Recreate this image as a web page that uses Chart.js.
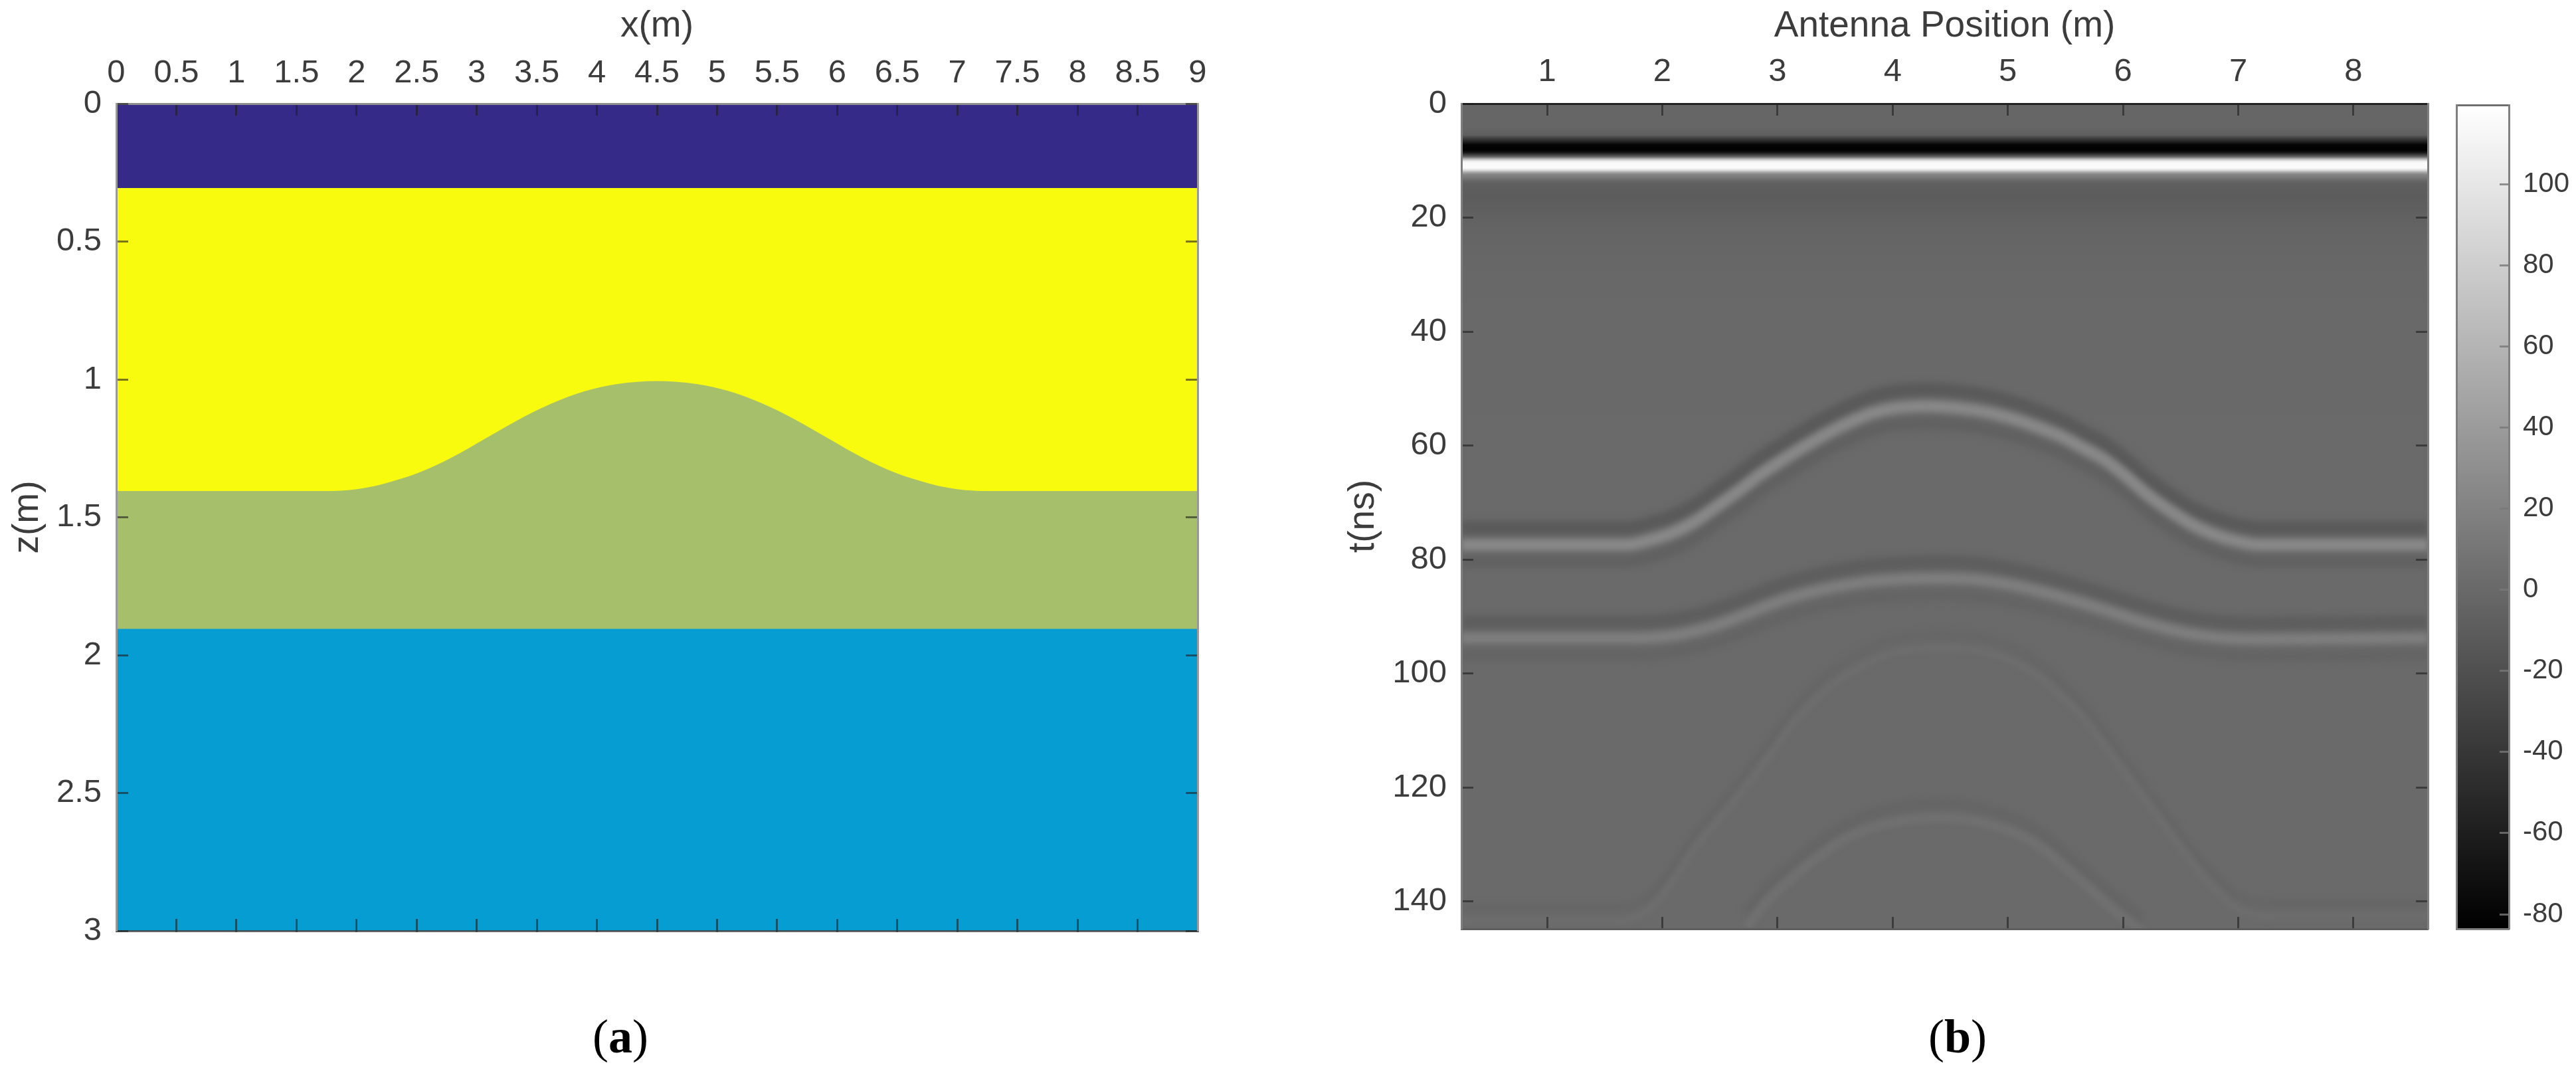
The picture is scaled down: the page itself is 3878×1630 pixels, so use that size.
<!DOCTYPE html>
<html>
<head>
<meta charset="utf-8">
<title>Model and radargram</title>
<script src="https://cdn.jsdelivr.net/npm/chart.js@4"></script>
<style>
  html, body { margin: 0; padding: 0; background: #fff; width: 3878px; height: 1630px; overflow: hidden; }
  canvas { position: absolute; top: 0; }
  #modelChart { left: 0; }
  #radarChart { left: 1900px; }
  #barChart { left: 3680px; }
  .caption { position: absolute; top: 1519px; font: 72px "Liberation Serif", serif; color: #000; transform: translateX(-50%); }
</style>
</head>
<body>
<canvas id="modelChart" width="1900" height="1500"></canvas>
<canvas id="radarChart" width="1780" height="1500"></canvas>
<canvas id="barChart" width="198" height="1500"></canvas>
<div class="caption" style="left:934px">(<b>a</b>)</div>
<div class="caption" style="left:2947px">(<b>b</b>)</div>
<script>
// Panel (a): ticks
const modelXTicks = [0, 0.5, 1, 1.5, 2, 2.5, 3, 3.5, 4, 4.5, 5, 5.5, 6, 6.5, 7, 7.5, 8, 8.5, 9];
const modelZTicks = [0, 0.5, 1, 1.5, 2, 2.5, 3];

// Panel (a): layer boundaries
const flatX = [0, 9];
const airZ = [0, 0];
const upperZ = [0.306, 0.306];
const lowerZ = [1.905, 1.905];
const bumpX = [0, 1.75, 1.93, 2.08, 2.24, 2.52, 2.79, 3.07, 3.34, 3.62, 3.9, 4.17, 4.5, 4.83, 5.1, 5.38, 5.66, 5.93, 6.21, 6.48, 6.76, 6.92, 7.07, 7.25, 9];
const bumpZ = [1.405, 1.405, 1.402, 1.393, 1.377, 1.338, 1.284, 1.215, 1.148, 1.088, 1.043, 1.017, 1.006, 1.017, 1.043, 1.088, 1.148, 1.215, 1.284, 1.338, 1.377, 1.393, 1.402, 1.405, 1.405];

// Panel (b): ticks
const antennaTicks = [1, 2, 3, 4, 5, 6, 7, 8];
const timeTicks = [0, 20, 40, 60, 80, 100, 120, 140];
const ampTicks = [-80, -60, -40, -20, 0, 20, 40, 60, 80, 100];
const antennaRange = [0.256, 8.646];
const timeRange = [0, 144.8];
const ampRange = [-83.6, 119.5];

// Panel (b): amplitude down a trace, direct wave then background
const bandTimes = [0, 3, 4.5, 5.5, 6.2, 6.8, 7.2, 8.2, 8.6, 8.9, 9.3, 9.7, 10.1, 10.4, 11.3, 11.7, 12, 12.4, 13, 13.6, 14, 16.3, 22, 30, 40, 145];
const bandAmps = [-2, -2, -3, -8, -38, -62, -80, -82, -65, -40, -5, 60, 105, 116, 116, 90, 55, 25, 11, -2, -8, -10, -4, -1, 0, 1];

// Panel (b): reflectors
const refl1X = [0.256, 1.7, 1.89, 2.08, 2.27, 2.465, 2.66, 2.85, 3.04, 3.24, 3.43, 3.62, 3.81, 4, 4.29, 4.68, 4.87, 5.06, 5.26, 5.45, 5.64, 5.83, 6.02, 6.21, 6.41, 6.6, 6.79, 6.99, 7.18, 8.646];
const refl1T = [77.4, 77.4, 76.6, 75.4, 73.5, 70.8, 68, 65.1, 62.6, 60.1, 57.9, 56, 54.4, 53.5, 53.1, 53.7, 54.4, 55.4, 56.8, 58.3, 60.3, 62.4, 65.3, 68.6, 71.5, 73.9, 75.6, 76.8, 77.4, 77.4];
const refl2X = [0.256, 1.756, 2.109, 2.463, 2.727, 3.08, 3.433, 3.787, 4.14, 4.426, 4.757, 5.11, 5.463, 5.816, 6.17, 6.52, 6.876, 7.2, 8.646];
const refl2T = [93.8, 93.8, 93.3, 91.6, 89.6, 86.9, 85.1, 83.9, 83.4, 83.3, 83.6, 84.8, 86.6, 88.7, 91, 92.8, 93.8, 94, 93.8];
const refl3X = [0.256, 1.624, 1.889, 2.109, 2.286, 2.507, 2.727, 2.948, 3.169, 3.433, 3.698, 4.007, 4.426, 4.846, 5.155, 5.419, 5.684, 5.905, 6.125, 6.39, 6.611, 6.832, 7.008, 7.3, 8.646];
const refl3T = [143.4, 143.4, 141.3, 136, 130.6, 125.3, 119.9, 114, 108, 102.7, 99.1, 96.4, 95.5, 96.4, 99.1, 103.2, 108.6, 114.5, 120.5, 127.6, 133.6, 138.6, 141.5, 142.6, 142.6];
const refl4X = [2.727, 2.904, 3.124, 3.345, 3.61, 3.919, 4.426, 4.846, 5.2, 5.508, 5.772, 6.037, 6.17];
const refl4T = [144.6, 140.1, 136, 132.4, 128.8, 126.5, 125.3, 126.5, 129.4, 134.2, 138.9, 143.4, 145.4];

// Parula colours of the four layers
const airColor = '#352a87';
const upperColor = '#f9fb0e';
const middleColor = '#a6bf6b';
const lowerColor = '#069dd2';

const labelFont = { family: '"Liberation Sans", Arial, sans-serif', size: 49 };
const titleFont = { family: '"Liberation Sans", Arial, sans-serif', size: 55 };
const textColor = '#3c3c3c';

function zip(xs, ys) {
  return xs.map((x, i) => ({ x: x, y: ys[i] }));
}

// gray colormap over the colorbar range
function ampToGray(a) {
  const g = Math.round((a - ampRange[0]) / (ampRange[1] - ampRange[0]) * 255);
  const v = Math.max(0, Math.min(255, g));
  return `rgb(${v},${v},${v})`;
}

// vertical gradient placed with the y scale
function ampGradient(values, amps) {
  return function (ctx) {
    const chart = ctx.chart;
    const scale = chart.scales.y;
    if (!scale || !chart.chartArea) return '#666';
    const top = scale.getPixelForValue(values[0]);
    const bottom = scale.getPixelForValue(values[values.length - 1]);
    const grad = chart.ctx.createLinearGradient(0, top, 0, bottom);
    values.forEach((v, i) => {
      grad.addColorStop((scale.getPixelForValue(v) - top) / (bottom - top), ampToGray(amps[i]));
    });
    return grad;
  };
}

function layer(xs, zs, color) {
  return {
    data: zip(xs, zs), backgroundColor: color, borderWidth: 0, pointRadius: 0,
    fill: 'start', cubicInterpolationMode: 'monotone'
  };
}

function lobe(xs, ts, offset, amp, width, blur) {
  return {
    data: xs.map((x, i) => ({ x: x, y: ts[i] + offset })),
    borderColor: ampToGray(amp), borderWidth: width, pointRadius: 0, fill: false,
    cubicInterpolationMode: 'monotone', blurPx: blur
  };
}

// one axis with inward ticks, its box size fixed so the plot area lands where it should
function axis(o) {
  const horizontal = o.position === 'top' || o.position === 'bottom';
  return {
    type: 'linear', position: o.position, min: o.range[0], max: o.range[1], reverse: !!o.reverse,
    afterFit: s => { if (horizontal) s.height = o.size; else s.width = o.size; },
    afterBuildTicks: s => { s.ticks = (o.ticks || []).map(v => ({ value: v })); },
    grid: {
      drawOnChartArea: false, drawTicks: !!o.ticks, tickLength: -(o.tickLen || 18), tickWidth: 3,
      tickColor: o.tickColor || 'rgba(30,30,30,0.6)', z: 1
    },
    border: { color: o.border, width: 3, z: 1 },
    ticks: {
      display: !!o.labels, padding: o.pad || 0, font: o.font || labelFont, color: textColor,
      autoSkip: false, maxRotation: 0, minRotation: 0, callback: v => String(v)
    },
    title: o.title ? { display: true, text: o.title, font: titleFont, color: textColor, padding: o.titlePad } : { display: false }
  };
}

const softLines = {
  id: 'softLines',
  beforeDatasetDraw(chart, args) {
    const blur = chart.data.datasets[args.index].blurPx;
    if (blur) {
      chart.ctx.save();
      chart.ctx.filter = `blur(${blur}px)`;
    }
  },
  afterDatasetDraw(chart, args) {
    if (chart.data.datasets[args.index].blurPx) chart.ctx.restore();
  }
};

const baseOptions = {
  responsive: false, animation: false, devicePixelRatio: 1,
  plugins: { legend: { display: false }, tooltip: { enabled: false } }
};

new Chart(document.getElementById('modelChart'), {
  type: 'line',
  data: {
    datasets: [
      layer(flatX, lowerZ, lowerColor),
      layer(bumpX, bumpZ, middleColor),
      layer(flatX, upperZ, upperColor),
      layer(flatX, airZ, airColor)
    ]
  },
  options: {
    ...baseOptions,
    layout: { padding: { left: 0, top: 0, right: 97, bottom: 99 } },
    scales: {
      x: axis({ position: 'top', range: [0, 9], size: 156, ticks: modelXTicks, labels: true, pad: 34, border: '#8e8e8e', title: 'x(m)', titlePad: { top: 7, bottom: 0 } }),
      x2: axis({ position: 'bottom', range: [0, 9], size: 0, ticks: modelXTicks, border: 'rgba(50,50,50,0.75)' }),
      y: axis({ position: 'left', range: [0, 3], reverse: true, size: 175, ticks: modelZTicks, labels: true, pad: 40, border: '#999999', title: 'z(m)', titlePad: { top: 9, bottom: 0 } }),
      y2: axis({ position: 'right', range: [0, 3], reverse: true, size: 0, ticks: modelZTicks, border: '#999999' })
    }
  }
});

new Chart(document.getElementById('radarChart'), {
  type: 'line',
  data: {
    datasets: [
      lobe(refl1X, refl1T, 0, 25, 17, 4),
      lobe(refl2X, refl2T, 0, 17, 16, 4),
      lobe(refl3X, refl3T, 0, 3, 12, 3.5),
      lobe(refl4X, refl4T, 0, 6, 14, 3.5),
      lobe(refl1X, refl1T, -3, -12, 20, 5),
      lobe(refl2X, refl2T, -2.9, -9, 20, 5),
      lobe(refl3X, refl3T, -2.4, -2, 12, 5),
      lobe(refl4X, refl4T, -2.6, -3, 14, 5),
      lobe(refl1X, refl1T, 3, -6, 18, 5),
      lobe(refl2X, refl2T, 3, -4, 16, 5),
      {
        data: zip(antennaRange, [0, 0]), backgroundColor: ampGradient(bandTimes, bandAmps),
        borderWidth: 0, pointRadius: 0, fill: 'start'
      }
    ]
  },
  options: {
    ...baseOptions,
    layout: { padding: { left: 0, top: 0, right: 25, bottom: 102 } },
    scales: {
      x: axis({ position: 'top', range: antennaRange, size: 156, ticks: antennaTicks, labels: true, pad: 36, border: '#222222', title: 'Antenna Position (m)', titlePad: { top: 7, bottom: 0 } }),
      x2: axis({ position: 'bottom', range: antennaRange, size: 0, ticks: antennaTicks, border: '#5e5e5e' }),
      y: axis({ position: 'left', range: timeRange, reverse: true, size: 300, ticks: timeTicks, labels: true, pad: 40, border: '#808080', title: 't(ns)', titlePad: { top: 120, bottom: 0 } }),
      y2: axis({ position: 'right', range: timeRange, reverse: true, size: 0, ticks: timeTicks, border: '#808080' })
    }
  },
  plugins: [softLines]
});

new Chart(document.getElementById('barChart'), {
  type: 'line',
  data: {
    datasets: [{
      data: zip([0, 1], [ampRange[1], ampRange[1]]),
      backgroundColor: ampGradient([ampRange[1], ampRange[0]], [ampRange[1], ampRange[0]]),
      borderWidth: 0, pointRadius: 0, fill: 'start'
    }]
  },
  options: {
    ...baseOptions,
    layout: { padding: { left: 0, top: 0, right: 0, bottom: 102 } },
    scales: {
      x: axis({ position: 'top', range: [0, 1], size: 158, border: '#6e6e6e' }),
      x2: axis({ position: 'bottom', range: [0, 1], size: 0, border: '#808080' }),
      y2: axis({ position: 'left', range: [ampRange[0], ampRange[1]], size: 18, border: '#808080' }),
      y: axis({ position: 'right', range: [ampRange[0], ampRange[1]], size: 101, ticks: ampTicks, labels: true, tickLen: 14, pad: 35, border: '#808080', tickColor: 'rgba(120,120,120,0.8)', font: { family: labelFont.family, size: 42 } })
    }
  }
});
</script>
</body>
</html>
